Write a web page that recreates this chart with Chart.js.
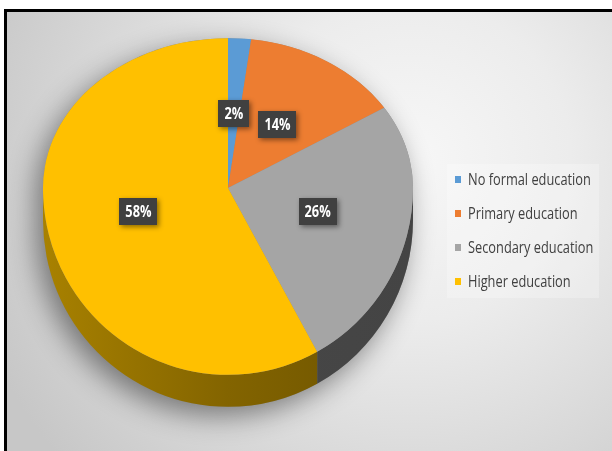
<!DOCTYPE html>
<html>
<head>
<meta charset="utf-8">
<script src="https://cdn.jsdelivr.net/npm/chart.js@4/dist/chart.umd.min.js"></script>
<style>
  html, body { margin: 0; padding: 0; background: #fff; }
  #wrap { width: 612px; height: 451px; }
</style>
</head>
<body>
<div id="wrap"><canvas id="eduChart" width="612" height="451"></canvas></div>
<script>
var levels = ['No formal education', 'Primary education', 'Secondary education', 'Higher education'];
var shares = [2, 14, 26, 58];
var sliceColors = ['#5b9bd5', '#ed7d31', '#a5a5a5', '#ffc000'];

// tilted pie: the back half is squashed more than the front half
var APEX_Y = 188;
var BACK_SQUASH = 0.81;
var FRONT_SQUASH = 1.01;
var DEPTH = 32;
var FONT = "'Open Sans', 'Noto Sans', sans-serif";
var NARROW = 0.8; // horizontal squeeze for a condensed look

function sideFill(ctx, i, x0, x1) {
    var g = ctx.createLinearGradient(x0, 0, x1, 0);
    if (i === 3) {
        g.addColorStop(0, '#a88100');
        g.addColorStop(0.5, '#836400');
        g.addColorStop(1, '#6a5100');
    } else if (i === 2) {
        g.addColorStop(0, '#4a4a4a');
        g.addColorStop(1, '#444444');
    } else if (i === 1) {
        g.addColorStop(0, '#8a4514');
        g.addColorStop(1, '#8a4514');
    } else {
        g.addColorStop(0, '#2f5b87');
        g.addColorStop(1, '#2f5b87');
    }
    return g;
}

function narrowText(ctx, txt, x, y) {
    ctx.save();
    ctx.translate(x, y);
    ctx.scale(NARROW, 1);
    ctx.fillText(txt, 0, 0);
    ctx.restore();
}

var tiltPlugin = {
    id: 'tilt',
    beforeDraw: function (chart) {
        var ctx = chart.ctx, w = chart.width, h = chart.height;
        ctx.save();
        ctx.fillStyle = '#ffffff';
        ctx.fillRect(0, 0, w, h);
        var bg = ctx.createRadialGradient(410, 160, 0, 410, 160, 460);
        bg.addColorStop(0, '#f7f7f7');
        bg.addColorStop(0.35, '#ececec');
        bg.addColorStop(1, '#c7c7c7');
        ctx.fillStyle = bg;
        ctx.fillRect(7, 12, w - 7, h - 12);
        ctx.fillStyle = '#000000';
        ctx.fillRect(4, 9, w - 4, 3);
        ctx.fillRect(4, 9, 3, h - 9);
        ctx.restore();
    },
    beforeDatasetsDraw: function (chart) {
        var ctx = chart.ctx;
        var arcs = chart.getDatasetMeta(0).data;
        var cx = arcs[0].x, cy = arcs[0].y, R = arcs[0].outerRadius;
        var rBack = R * BACK_SQUASH, rFront = R * FRONT_SQUASH;

        // soft shadow under the whole disc
        ctx.save();
        ctx.shadowColor = 'rgba(0,0,0,0.45)';
        ctx.shadowBlur = 28;
        ctx.shadowOffsetX = -7;
        ctx.shadowOffsetY = 9;
        ctx.fillStyle = '#8a8a8a';
        ctx.beginPath();
        ctx.ellipse(cx, APEX_Y, R, rBack, 0, Math.PI, 2 * Math.PI);
        ctx.ellipse(cx, APEX_Y + DEPTH, R, rFront, 0, 0, Math.PI);
        ctx.closePath();
        ctx.fill();
        ctx.restore();

        // rim of each slice on the front half
        arcs.forEach(function (a, i) {
            var s = Math.max(a.startAngle, 0), e = Math.min(a.endAngle, Math.PI);
            if (e <= s) return;
            ctx.save();
            ctx.fillStyle = sideFill(ctx, i, cx - R, cx + R);
            ctx.beginPath();
            ctx.ellipse(cx, APEX_Y, R, rFront, 0, s, e);
            ctx.ellipse(cx, APEX_Y + DEPTH, R, rFront, 0, e, s, true);
            ctx.closePath();
            ctx.fill();
            ctx.restore();
        });

        // top face, drawn by the arc elements in two squashed halves
        [[0, APEX_Y + 0.5, rBack], [APEX_Y - 0.5, chart.height, rFront]].forEach(function (part) {
            ctx.save();
            ctx.beginPath();
            ctx.rect(0, part[0], chart.width, part[1] - part[0]);
            ctx.clip();
            ctx.translate(0, APEX_Y);
            ctx.scale(1, part[2] / R);
            ctx.translate(0, -cy);
            arcs.forEach(function (a) { a.draw(ctx); });
            ctx.restore();
        });
        return false;
    },
    afterDraw: function (chart) {
        var ctx = chart.ctx;
        var arcs = chart.getDatasetMeta(0).data;
        var cx = arcs[0].x, R = arcs[0].outerRadius;

        // value labels in dark boxes
        ctx.save();
        ctx.font = 'bold 16px ' + FONT;
        ctx.textAlign = 'center';
        ctx.textBaseline = 'middle';
        arcs.forEach(function (a, i) {
            var mid = (a.startAngle + a.endAngle) / 2;
            var ux = Math.cos(mid), uy = Math.sin(mid);
            var r = R * 0.5;
            var x = cx + r * ux;
            var y = APEX_Y + r * uy * (uy < 0 ? BACK_SQUASH : FRONT_SQUASH);
            var txt = shares[i] + '%';
            var bw = ctx.measureText(txt).width * NARROW + 12, bh = 27;
            ctx.save();
            ctx.shadowColor = 'rgba(0,0,0,0.45)';
            ctx.shadowBlur = 5;
            ctx.shadowOffsetX = 2;
            ctx.shadowOffsetY = 2;
            ctx.fillStyle = '#404040';
            ctx.fillRect(Math.round(x - bw / 2), Math.round(y - bh / 2), Math.round(bw), bh);
            ctx.restore();
            ctx.fillStyle = '#ffffff';
            narrowText(ctx, txt, x, y + 1);
        });
        ctx.restore();

        // legend on the right
        ctx.save();
        ctx.fillStyle = 'rgba(255,255,255,0.25)';
        ctx.fillRect(447, 164, 152, 134);
        ctx.font = '16px ' + FONT;
        ctx.textAlign = 'left';
        ctx.textBaseline = 'middle';
        levels.forEach(function (name, i) {
            var y = 180 + i * 34;
            ctx.fillStyle = sliceColors[i];
            ctx.fillRect(455, y - 4, 6, 7);
            ctx.fillStyle = '#404040';
            narrowText(ctx, name, 468, y);
        });
        ctx.restore();
    }
};

var ctx = document.getElementById('eduChart').getContext('2d');
var chart = new Chart(ctx, {
    type: 'pie',
    data: {
        labels: levels,
        datasets: [{
            data: shares,
            backgroundColor: sliceColors,
            borderWidth: 0,
            clip: false
        }]
    },
    options: {
        responsive: false,
        animation: false,
        layout: {
            padding: { left: 43, right: 199, top: 40, bottom: 41 }
        },
        plugins: {
            legend: { display: false },
            tooltip: { enabled: false }
        }
    },
    plugins: [tiltPlugin]
});
</script>
</body>
</html>
